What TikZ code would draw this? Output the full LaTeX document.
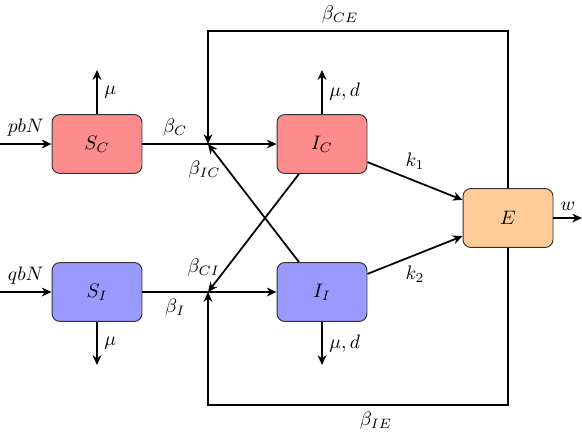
\documentclass[tikz,border=0pt]{standalone}
\usetikzlibrary{arrows.meta}

\tikzset{
    comp/.style={draw=black!80,line width=0.5pt,rounded corners=4pt,minimum width=1.62cm,minimum height=1.06cm},
    flow/.style={line width=0.9pt,-{Stealth[length=5pt,width=4.5pt,inset=1.6pt]}},
    link/.style={line width=0.9pt}
}

\begin{document}
\begin{tikzpicture}[x=0.018cm,y=-0.018cm]
    \useasboundingbox (0,0) rectangle (582,435);
    \node[comp,fill=red!45] (SC) at (97,144) {$S_C$};
    \node[comp,fill=red!45] (IC) at (322,144) {$I_C$};
    \node[comp,fill=blue!40] (SI) at (97,292) {$S_I$};
    \node[comp,fill=blue!40] (II) at (322,292) {$I_I$};
    \node[comp,fill=orange!40] (E) at (508,218) {$E$};
    \coordinate (jC) at (208,144);
    \coordinate (jI) at (208,292);
    \coordinate (inC) at (0,144);
    \coordinate (inI) at (0,292);
    \coordinate (outSC) at (97,70);
    \coordinate (outSI) at (97,365);
    \coordinate (outIC) at (322,70);
    \coordinate (outII) at (322,365);
    \coordinate (outE) at (582,218);
    \coordinate (topE) at (508,31);
    \coordinate (topC) at (208,31);
    \coordinate (botE) at (508,405);
    \coordinate (botI) at (208,405);

    \draw[flow] (inC) -- node[above] {$pbN$} (SC);
    \draw[flow] (inI) -- node[above] {$qbN$} (SI);
    \draw[flow] (SC) -- node[right] {$\mu$} (outSC);
    \draw[flow] (SI) -- node[right] {$\mu$} (outSI);
    \draw[flow] (IC) -- node[right] {$\mu, d$} (outIC);
    \draw[flow] (II) -- node[right] {$\mu, d$} (outII);
    \draw[link] (SC) -- node[above] {$\beta_C$} (jC);
    \draw[link] (SI) -- node[below] {$\beta_I$} (jI);
    \draw[flow] (jC) -- (IC);
    \draw[flow] (jI) -- (II);
    \draw[flow] (II) -- node[pos=0.78,left] {$\beta_{IC}$} (jC);
    \draw[flow] (IC) -- node[pos=0.79,left] {$\beta_{CI}$} (jI);
    \draw[flow] (IC) -- node[above=2pt] {$k_1$} (E);
    \draw[flow] (II) -- node[below=2pt] {$k_2$} (E);
    \draw[flow] (E) -- node[above] {$w$} (outE);
    \draw[flow] (E) -- (topE) -- node[pos=0.56,above] {$\beta_{CE}$} (topC) -- (jC);
    \draw[flow] (E) -- (botE) -- node[pos=0.44,below] {$\beta_{IE}$} (botI) -- (jI);
\end{tikzpicture}
\end{document}
